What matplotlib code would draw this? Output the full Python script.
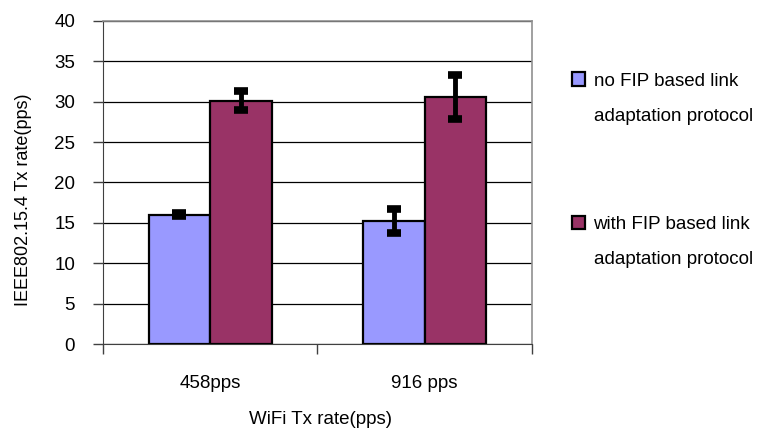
import matplotlib.pyplot as plt
from matplotlib.patches import Patch
import numpy as np

plt.rcParams['font.family'] = ['Liberation Sans', 'DejaVu Sans']

# dane
kategorie = ['458pps', '916 pps']
bez_fip = [16.0, 15.2]
bez_fip_err = [0.2, 1.5]
z_fip = [30.1, 30.6]
z_fip_err = [1.2, 2.7]
etykiety_1 = ['no FIP based link', 'adaptation protocol']
etykiety_2 = ['with FIP based link', 'adaptation protocol']
y_ticks = [0, 5, 10, 15, 20, 25, 30, 35, 40]

FS = 13.5
kolor_1 = '#9999FF'
kolor_2 = '#993366'

fig = plt.figure(figsize=(7.61, 4.30), dpi=100)
ax = fig.add_axes([0.1353, 0.1993, 0.5637, 0.7526])

x = np.arange(len(kategorie))
w = 0.287
err_kw = dict(elinewidth=3.5, capsize=5, capthick=5.5, ecolor='black')
ax.bar(x - w / 2, bez_fip, w, yerr=bez_fip_err, color=kolor_1,
       edgecolor='black', linewidth=1.6, error_kw=err_kw, zorder=3)
ax.bar(x + w / 2, z_fip, w, yerr=z_fip_err, color=kolor_2,
       edgecolor='black', linewidth=1.6, error_kw=err_kw, zorder=3)

ax.set_xlim(-0.5, 1.5)
ax.set_ylim(0, 40)
ax.set_yticks(y_ticks)
ax.yaxis.grid(True, color='black', linewidth=0.9, zorder=0)
ax.set_axisbelow(True)

ax.set_xticks(x)
ax.set_xticklabels(kategorie, fontsize=FS)
ax.set_xticks([-0.5, 0.5, 1.5], minor=True)
ax.tick_params(axis='x', which='major', length=0, pad=22)
ax.tick_params(axis='x', which='minor', length=7, width=1, color='#404040')
ax.tick_params(axis='y', length=7, width=1, color='#404040', pad=13, labelsize=FS)

for s in ['top', 'right']:
    ax.spines[s].set_color('#909090')
    ax.spines[s].set_linewidth(1.2)
ax.spines['left'].set_color('#404040')
ax.spines['bottom'].set_color('#404040')

ax.set_xlabel('WiFi Tx rate(pps)', fontsize=FS)
ax.xaxis.set_label_coords(0.506, -0.205)
ax.set_ylabel('IEEE802.15.4 Tx rate(pps)', fontsize=13)
ax.yaxis.set_label_coords(-0.165, 0.446)

# legenda: kwadrat przy pierwszej linii opisu
pusty = Patch(facecolor='none', edgecolor='none')
wspolne = dict(loc='center left', frameon=False, fontsize=FS,
               handlelength=0.7, handleheight=0.7, handletextpad=0.45,
               labelspacing=0.95, borderpad=0, borderaxespad=0)
leg1 = fig.legend([Patch(facecolor=kolor_1, edgecolor='black', linewidth=1.6), pusty],
                  etykiety_1, bbox_to_anchor=(0.7516, 0.771), **wspolne)
leg2 = fig.legend([Patch(facecolor=kolor_2, edgecolor='black', linewidth=1.6), pusty],
                  etykiety_2, bbox_to_anchor=(0.7516, 0.437), **wspolne)

fig.savefig('out.png', dpi=100)
